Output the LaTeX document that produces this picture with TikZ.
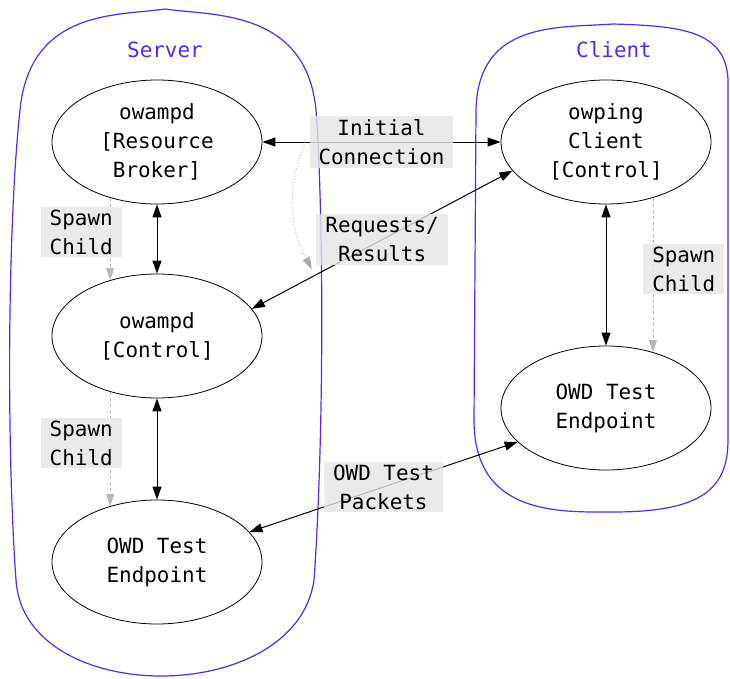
\documentclass[tikz,border=0pt]{standalone}
\usepackage{fontspec}
\setmonofont{DejaVu Sans Mono}
\usetikzlibrary{shapes.geometric,arrows.meta}
\definecolor{zonecol}{RGB}{88,38,245}
\tikzset{
  proc/.style={draw,ellipse,line width=0.8pt,minimum width=210bp,minimum height=124bp,inner sep=0pt,align=center},
  lbl/.style={fill=gray!20,fill opacity=0.8,text opacity=1,align=center,inner xsep=9bp,inner ysep=3bp},
  both/.style={{Triangle[length=13bp,width=9bp]}-{Triangle[length=13bp,width=9bp]},line width=1pt},
  spawn/.style={dashed,draw=gray!55,line width=0.8pt,-{Triangle[length=12bp,width=8bp,fill=gray!55]}},
  zone/.style={draw=zonecol,line width=1.2pt}
}
\begin{document}
\begin{tikzpicture}[font=\ttfamily\fontsize{21}{29}\selectfont]
\useasboundingbox (0bp,0bp) rectangle (730bp,-679bp);
% host boundaries
\draw[zone] (165bp,-9bp) .. controls (120bp,-16bp) and (30bp,-8bp) .. (20bp,-110bp)
  .. controls (8bp,-220bp) and (6bp,-440bp) .. (16bp,-580bp)
  .. controls (24bp,-708bp) and (296bp,-708bp) .. (314bp,-580bp)
  .. controls (324bp,-440bp) and (324bp,-220bp) .. (316bp,-110bp)
  .. controls (306bp,-8bp) and (210bp,-16bp) .. (165bp,-9bp);
\draw[zone] (613bp,-24bp) .. controls (560bp,-28bp) and (478bp,-20bp) .. (476bp,-110bp)
  -- (474bp,-420bp) .. controls (474bp,-516bp) and (560bp,-512bp) .. (613bp,-512bp)
  .. controls (700bp,-512bp) and (728bp,-490bp) .. (728bp,-440bp)
  -- (728bp,-80bp) .. controls (726bp,-30bp) and (680bp,-26bp) .. (613bp,-24bp);
\node (server) at (165bp,-50bp)[text=zonecol] {Server};
\node (client) at (614bp,-50bp)[text=zonecol] {Client};
% processes
\node (broker) at (157bp,-142bp)[proc] {owampd\\{}[Resource\\Broker]};
\node (ctrl) at (157bp,-336bp)[proc] {owampd\\{}[Control]};
\node (sep) at (157bp,-562bp)[proc] {OWD Test\\Endpoint};
\node (owping) at (606bp,-142bp)[proc] {owping\\Client\\{}[Control]};
\node (cep) at (606bp,-408bp)[proc] {OWD Test\\Endpoint};
% connections
\draw[both] (broker) to coordinate[pos=0.18] (ic) node[lbl] {Initial\\Connection} (owping);
\draw[both] (ctrl.16) to coordinate[pos=0.23] (rq) node[lbl] {Requests/\\Results} (owping.197);
\draw[both] (sep.18) to node[lbl] {OWD Test\\Packets} (cep.201);
\draw[both] (broker) to (ctrl);
\draw[both] (ctrl) to (sep);
\draw[both] (owping) to (cep);
% spawning
\draw[spawn] (broker.230) to node[lbl,anchor=east,xshift=12bp,yshift=7bp] {Spawn\\Child} (ctrl.130);
\draw[spawn] (ctrl.230) to node[lbl,anchor=east,xshift=12bp,yshift=6bp] {Spawn\\Child} (sep.130);
\draw[spawn] (owping.310) to node[lbl,anchor=west,xshift=-10bp,yshift=6bp] {Spawn\\Child} (cep.50);
\draw[dotted,draw=gray!70,line width=0.8pt,-{Triangle[length=12bp,width=8bp,fill=gray!70]}] (ic) to[bend right=25] ([yshift=8bp]rq);
\end{tikzpicture}
\end{document}
